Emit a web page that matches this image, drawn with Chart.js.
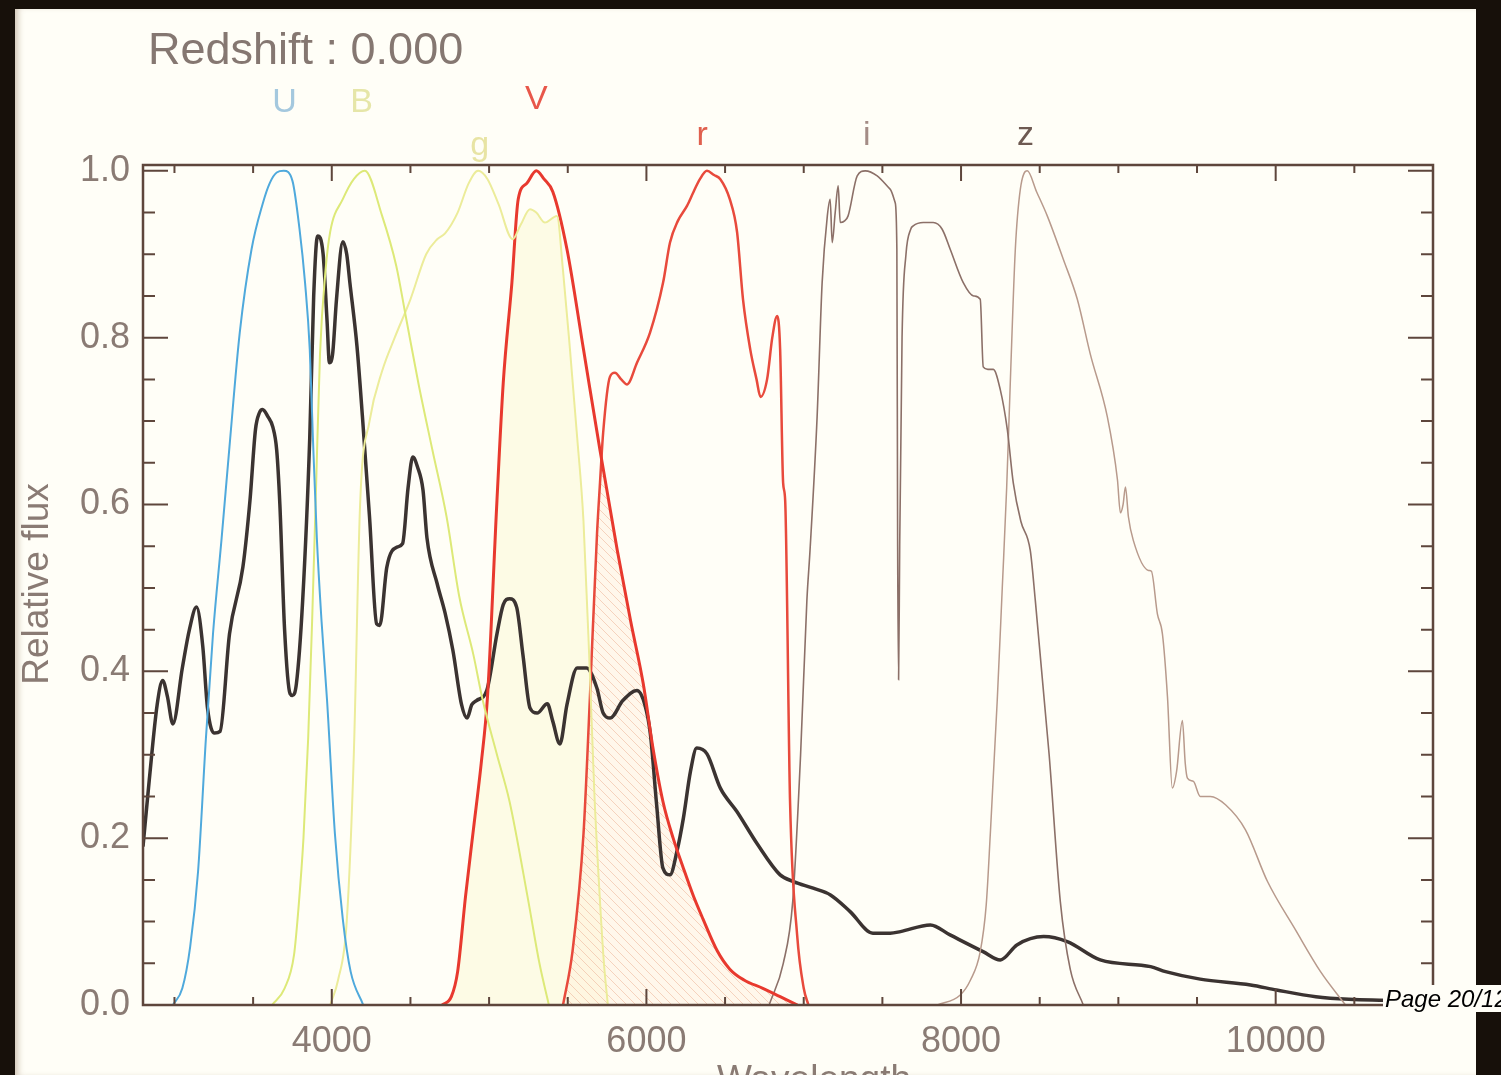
<!DOCTYPE html>
<html>
<head>
<meta charset="utf-8">
<script src="https://cdn.jsdelivr.net/npm/chart.js@4.4.1/dist/chart.umd.min.js"></script>
<style>
  html, body { margin: 0; padding: 0; width: 1501px; height: 1075px; overflow: hidden; background: #17100a; }
  #page { position: absolute; left: 15px; top: 9px; width: 1461px; height: 1066px; background: #fffef7;
          box-shadow: inset 6px 0 6px -3px rgba(120,90,60,0.35); }
  #chart { position: absolute; left: 0; top: 0; }
</style>
</head>
<body>
<div id="page"></div>
<canvas id="chart" width="1501" height="1075"></canvas>
<script>
// ---- data (wavelength in Angstrom, relative flux) ----
const specLam = [2800, 2840, 2890, 2925, 2955, 2990, 3050, 3095, 3140, 3180, 3210, 3255, 3290, 3350, 3435, 3480, 3515, 3540, 3560, 3595, 3625, 3650, 3670, 3700, 3735, 3750, 3775, 3815, 3860, 3885, 3910, 3945, 3970, 3985, 4005, 4030, 4070, 4095, 4115, 4160, 4195, 4240, 4285, 4305, 4350, 4415, 4450, 4485, 4515, 4545, 4580, 4605, 4670, 4720, 4770, 4825, 4860, 4890, 4920, 4985, 5050, 5090, 5130, 5175, 5215, 5260, 5305, 5370, 5405, 5450, 5495, 5560, 5620, 5685, 5725, 5770, 5850, 5940, 5990, 6025, 6065, 6105, 6150, 6195, 6235, 6280, 6320, 6385, 6470, 6575, 6705, 6850, 6935, 7060, 7170, 7295, 7440, 7550, 7615, 7805, 7930, 8140, 8250, 8355, 8525, 8675, 8885, 9205, 9300, 9520, 9840, 10005, 10255, 10465, 11000];
const specFlux = [0.19, 0.27, 0.36, 0.389, 0.37, 0.337, 0.404, 0.45, 0.477, 0.43, 0.356, 0.326, 0.328, 0.445, 0.525, 0.605, 0.69, 0.71, 0.714, 0.705, 0.693, 0.665, 0.6, 0.45, 0.373, 0.371, 0.385, 0.485, 0.68, 0.85, 0.922, 0.9, 0.82, 0.77, 0.78, 0.846, 0.915, 0.9, 0.866, 0.79, 0.705, 0.585, 0.457, 0.455, 0.525, 0.549, 0.553, 0.62, 0.657, 0.645, 0.617, 0.56, 0.505, 0.47, 0.425, 0.36, 0.344, 0.36, 0.365, 0.377, 0.445, 0.48, 0.487, 0.477, 0.42, 0.356, 0.35, 0.361, 0.34, 0.313, 0.36, 0.404, 0.404, 0.38, 0.35, 0.344, 0.365, 0.377, 0.36, 0.325, 0.24, 0.164, 0.156, 0.185, 0.224, 0.28, 0.308, 0.301, 0.26, 0.232, 0.193, 0.156, 0.148, 0.14, 0.132, 0.112, 0.086, 0.086, 0.088, 0.096, 0.084, 0.064, 0.054, 0.072, 0.082, 0.076, 0.054, 0.046, 0.04, 0.031, 0.024, 0.018, 0.01, 0.007, 0.005];

const uLam  = [2990, 3050, 3100, 3150, 3200, 3245, 3300, 3350, 3415, 3490, 3560, 3605, 3650, 3695, 3750, 3795, 3830, 3860, 3880, 3905, 3935, 3970, 4020, 4070, 4120, 4200];
const uResp = [0, 0.02, 0.07, 0.16, 0.32, 0.445, 0.56, 0.67, 0.806, 0.906, 0.96, 0.985, 0.998, 1.0, 0.988, 0.93, 0.866, 0.786, 0.68, 0.56, 0.46, 0.365, 0.205, 0.103, 0.04, 0];

const bLam  = [3620, 3700, 3760, 3790, 3820, 3850, 3875, 3900, 3925, 3960, 3990, 4070, 4140, 4210, 4320, 4410, 4470, 4550, 4640, 4730, 4810, 4900, 4960, 5050, 5130, 5250, 5320, 5380];
const bResp = [0, 0.02, 0.06, 0.12, 0.2, 0.32, 0.46, 0.62, 0.78, 0.88, 0.927, 0.966, 0.99, 1.0, 0.946, 0.886, 0.826, 0.746, 0.665, 0.585, 0.49, 0.42, 0.365, 0.3, 0.244, 0.124, 0.05, 0];

const gLam  = [3990, 4040, 4095, 4140, 4180, 4240, 4320, 4400, 4500, 4600, 4670, 4720, 4800, 4870, 4930, 4990, 5060, 5150, 5200, 5260, 5300, 5355, 5431, 5470, 5514, 5560, 5600, 5640, 5670, 5705, 5730, 5755];
const gResp = [0, 0.03, 0.10, 0.3, 0.6, 0.70, 0.76, 0.8, 0.846, 0.9, 0.918, 0.925, 0.95, 0.985, 1.0, 0.99, 0.96, 0.918, 0.935, 0.954, 0.95, 0.938, 0.946, 0.88, 0.786, 0.68, 0.58, 0.4, 0.25, 0.124, 0.05, 0];

const vLam  = [4700, 4760, 4800, 4850, 4900, 4950, 4990, 5050, 5090, 5145, 5185, 5240, 5300, 5350, 5405, 5495, 5600, 5705, 5815, 5900, 5980, 6040, 6105, 6170, 6235, 6300, 6360, 6450, 6530, 6620, 6740, 6850, 6960];
const vResp = [0, 0.01, 0.04, 0.13, 0.21, 0.29, 0.37, 0.605, 0.746, 0.866, 0.966, 0.985, 1.0, 0.99, 0.975, 0.906, 0.786, 0.665, 0.545, 0.46, 0.385, 0.31, 0.244, 0.2, 0.164, 0.13, 0.103, 0.065, 0.043, 0.03, 0.02, 0.01, 0];

const rLam  = [5470, 5530, 5600, 5640, 5686, 5705, 5725, 5768, 5800, 5840, 5877, 5940, 6023, 6106, 6150, 6200, 6258, 6300, 6340, 6385, 6430, 6470, 6530, 6576, 6614, 6660, 6700, 6725, 6767, 6800, 6831, 6850, 6869, 6882, 6913, 6958, 7000, 7030];
const rResp = [0, 0.064, 0.205, 0.365, 0.565, 0.626, 0.686, 0.753, 0.758, 0.75, 0.744, 0.77, 0.806, 0.866, 0.914, 0.94, 0.958, 0.975, 0.99, 1.0, 0.995, 0.99, 0.966, 0.927, 0.846, 0.786, 0.75, 0.729, 0.75, 0.8, 0.826, 0.786, 0.626, 0.605, 0.244, 0.084, 0.02, 0];

const iLam  = [6780, 6870, 6930, 6980, 7020, 7040, 7085, 7117, 7150, 7168, 7181, 7200, 7219, 7232, 7260, 7282, 7340, 7391, 7467, 7549, 7581, 7592, 7597, 7603, 7610, 7625, 7650, 7680, 7696, 7760, 7823, 7880, 7931, 8014, 8080, 8122, 8141, 8170, 8205, 8249, 8294, 8332, 8380, 8440, 8472, 8560, 8631, 8694, 8777];
const iResp = [0, 0.05, 0.124, 0.3, 0.485, 0.545, 0.705, 0.866, 0.946, 0.966, 0.914, 0.95, 0.982, 0.938, 0.94, 0.946, 0.994, 1.0, 0.994, 0.978, 0.962, 0.906, 0.55, 0.39, 0.55, 0.8, 0.9, 0.93, 0.934, 0.938, 0.938, 0.93, 0.906, 0.866, 0.85, 0.846, 0.765, 0.762, 0.762, 0.738, 0.69, 0.626, 0.58, 0.545, 0.485, 0.3, 0.124, 0.043, 0];

const zLam  = [7850, 7995, 8060, 8122, 8160, 8186, 8230, 8262, 8290, 8313, 8345, 8377, 8421, 8480, 8548, 8650, 8739, 8822, 8930, 8994, 9013, 9030, 9045, 9064, 9095, 9191, 9210, 9248, 9280, 9312, 9343, 9370, 9407, 9425, 9439, 9477, 9521, 9585, 9681, 9808, 9948, 10126, 10285, 10444];
const zResp = [0, 0.012, 0.03, 0.064, 0.12, 0.205, 0.365, 0.5, 0.62, 0.746, 0.906, 0.978, 1.0, 0.975, 0.946, 0.894, 0.846, 0.78, 0.705, 0.63, 0.59, 0.6, 0.621, 0.585, 0.557, 0.521, 0.52, 0.469, 0.445, 0.37, 0.26, 0.28, 0.341, 0.29, 0.272, 0.268, 0.25, 0.25, 0.24, 0.21, 0.148, 0.09, 0.04, 0];

// filter names and the wavelength each label sits over
const filterNames = ['U', 'B', 'g', 'V', 'r', 'i', 'z'];
const filterLabelLam = [3700, 4190, 4940, 5300, 6355, 7400, 8410];

// axis ticks
const xMajorTicks = [4000, 6000, 8000, 10000];
const xMinorTicks = [3000, 3500, 4500, 5000, 5500, 6500, 7000, 7500, 8500, 9000, 9500, 10500];
const yMajorTicks = [0, 0.2, 0.4, 0.6, 0.8, 1.0];
const yMinorTicks = [0.05, 0.1, 0.15, 0.25, 0.3, 0.35, 0.45, 0.5, 0.55, 0.65, 0.7, 0.75, 0.85, 0.9, 0.95];

const redshiftText = 'Redshift : 0.000';

// ---- styling ----
const FONT = "'Liberation Sans', Arial, Helvetica, sans-serif";
const axisColor = '#5e463c';
const textColor = '#8a7b74';
const labelColors = ['#a4c8de', '#e6e6a8', '#e8e4a4', '#e8574a', '#e0604e', '#a48c86', '#6e5a52'];
const labelY = [103, 103, 146, 100, 136, 136, 136];

function pts(xs, ys) {
  return xs.map((x, i) => ({ x: x, y: ys[i] }));
}

function curve(label, xs, ys, color, width) {
  return {
    label: label,
    data: pts(xs, ys),
    borderColor: color,
    borderWidth: width,
    pointRadius: 0,
    fill: false,
    cubicInterpolationMode: 'monotone'
  };
}

function findMeta(chart, label) {
  const idx = chart.data.datasets.findIndex(d => d.label === label);
  return chart.getDatasetMeta(idx);
}

function traceArea(ctx, chart, meta) {
  const line = meta.dataset;
  const points = meta.data;
  const base = chart.chartArea.bottom;
  line.updateControlPoints(chart.chartArea, 'x');
  ctx.beginPath();
  line.path(ctx);
  ctx.lineTo(points[points.length - 1].x, base);
  ctx.lineTo(points[0].x, base);
  ctx.closePath();
}

// area under both curves A and B
function shadeOverlap(chart, a, b, style) {
  const ctx = chart.ctx;
  ctx.save();
  traceArea(ctx, chart, findMeta(chart, a));
  ctx.clip();
  traceArea(ctx, chart, findMeta(chart, b));
  ctx.fillStyle = style;
  ctx.fill();
  ctx.restore();
}

function hatchPattern(ctx) {
  const c = document.createElement('canvas');
  c.width = 9; c.height = 9;
  const p = c.getContext('2d');
  p.fillStyle = 'rgba(255,240,220,0.45)';
  p.fillRect(0, 0, 9, 9);
  p.strokeStyle = 'rgba(238,185,160,0.6)';
  p.lineWidth = 1;
  p.beginPath();
  p.moveTo(0, 0); p.lineTo(9, 9);
  p.moveTo(-1, 8); p.lineTo(1, 10);
  p.moveTo(8, -1); p.lineTo(10, 1);
  p.stroke();
  return ctx.createPattern(c, 'repeat');
}

const decorPlugin = {
  id: 'sedDecor',
  beforeDatasetsDraw(chart) {
    const { ctx, chartArea: a } = chart;
    ctx.save();
    ctx.beginPath();
    ctx.rect(a.left, a.top, a.right - a.left, a.bottom - a.top);
    ctx.clip();
    shadeOverlap(chart, 'g', 'V', 'rgba(250,244,190,0.3)');
    shadeOverlap(chart, 'V', 'r', hatchPattern(ctx));
    ctx.restore();
  },
  afterDatasetsDraw(chart) {
    const { ctx, chartArea: a, scales: { x, y } } = chart;
    ctx.save();
    ctx.strokeStyle = axisColor;
    ctx.lineWidth = 2.5;
    ctx.strokeRect(a.left, a.top, a.right - a.left, a.bottom - a.top);
    ctx.lineWidth = 2;
    ctx.beginPath();
    const xt = (v, len) => {
      const px = x.getPixelForValue(v);
      ctx.moveTo(px, a.bottom); ctx.lineTo(px, a.bottom - len);
      ctx.moveTo(px, a.top); ctx.lineTo(px, a.top + len);
    };
    const yt = (v, len) => {
      const py = y.getPixelForValue(v);
      ctx.moveTo(a.left, py); ctx.lineTo(a.left + len, py);
      ctx.moveTo(a.right, py); ctx.lineTo(a.right - len, py);
    };
    xMajorTicks.forEach(v => xt(v, 16));
    xMinorTicks.forEach(v => xt(v, 8));
    yMajorTicks.forEach(v => yt(v, 25));
    yMinorTicks.forEach(v => yt(v, 12));
    ctx.stroke();
    ctx.restore();
  },
  afterDraw(chart) {
    const { ctx, scales: { x } } = chart;
    ctx.save();
    // title
    ctx.fillStyle = '#857771';
    ctx.font = '45px ' + FONT;
    ctx.textAlign = 'left';
    ctx.textBaseline = 'alphabetic';
    ctx.fillText(redshiftText, 148, 64);
    // filter names
    ctx.font = '34px ' + FONT;
    ctx.textAlign = 'center';
    ctx.textBaseline = 'middle';
    filterNames.forEach((n, i) => {
      ctx.fillStyle = labelColors[i];
      ctx.fillText(n, x.getPixelForValue(filterLabelLam[i]), labelY[i]);
    });
    // axis titles
    ctx.fillStyle = textColor;
    ctx.font = '37px ' + FONT;
    ctx.textBaseline = 'alphabetic';
    ctx.fillText('Wavelength', 814, 1091);
    ctx.save();
    ctx.translate(48, 584);
    ctx.rotate(-Math.PI / 2);
    ctx.fillText('Relative flux', 0, 0, 208);
    ctx.restore();
    // page number
    ctx.fillStyle = '#fffef7';
    ctx.fillRect(1383, 985, 118, 27);
    ctx.fillStyle = '#000000';
    ctx.font = 'italic 24px ' + FONT;
    ctx.textAlign = 'left';
    ctx.fillText('Page 20/129', 1385, 1007);
    ctx.restore();
  }
};

const ctx = document.getElementById('chart').getContext('2d');
new Chart(ctx, {
  type: 'line',
  data: {
    datasets: [
      curve('U', uLam, uResp, '#4fa9dc', 2),
      curve('B', bLam, bResp, '#dde978', 2),
      curve('g', gLam, gResp, '#ecec9a', 2),
      curve('V', vLam, vResp, '#e8392e', 3),
      curve('r', rLam, rResp, '#e84a3c', 2.5),
      curve('i', iLam, iResp, '#8c7068', 1.6),
      curve('z', zLam, zResp, '#b89a8c', 1.5),
      curve('spectrum', specLam, specFlux, '#3b3331', 3.5)
    ]
  },
  plugins: [decorPlugin],
  options: {
    responsive: false,
    animation: false,
    devicePixelRatio: 1,
    layout: { padding: { top: 165, right: 68, bottom: 0, left: 0 } },
    plugins: {
      legend: { display: false },
      title: { display: false },
      tooltip: { enabled: false }
    },
    scales: {
      x: {
        type: 'linear',
        min: 2800,
        max: 11000,
        afterFit: s => { s.height = 70; },
        afterBuildTicks: s => { s.ticks = xMajorTicks.map(v => ({ value: v })); },
        grid: { display: false, drawTicks: false },
        border: { display: false },
        ticks: {
          color: textColor,
          font: { family: FONT, size: 36 },
          padding: 15,
          maxRotation: 0,
          callback: v => String(v)
        }
      },
      y: {
        type: 'linear',
        min: 0,
        max: 1.007,
        afterFit: s => { s.width = 143; },
        afterBuildTicks: s => { s.ticks = yMajorTicks.map(v => ({ value: v })); },
        grid: { display: false, drawTicks: false },
        border: { display: false },
        ticks: {
          color: textColor,
          font: { family: FONT, size: 36 },
          padding: 13,
          callback: v => v.toFixed(1)
        }
      }
    }
  }
});
</script>
</body>
</html>
